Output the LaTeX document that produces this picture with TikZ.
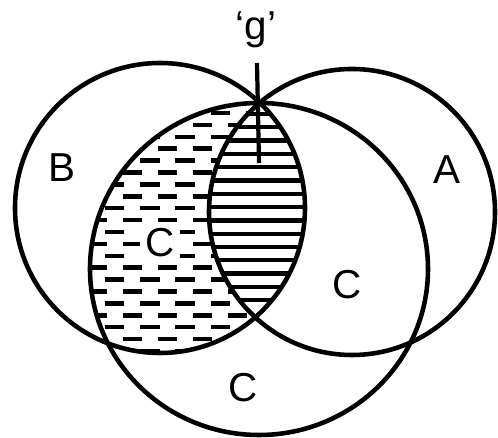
\documentclass[tikz,border=0pt]{standalone}
\usepackage{fontspec}
\setsansfont{Liberation Sans}
\begin{document}
\begin{tikzpicture}[x=0.02cm,y=-0.02cm,
  outline/.style={line width=2.6pt},
  lbl/.style={font=\sffamily\fontsize{23}{23}\selectfont, inner sep=0pt},
  dashrow/.style={line width=2.6pt, dash pattern=on 11pt off 9pt},
  lensrow/.style={line width=2.4pt}]
\useasboundingbox (0,0) rectangle (498,438);
% dashed region: B and C, outside A
\begin{scope}
  \clip (160,208) circle [radius=145];
  \clip (259,269) ellipse [x radius=169, y radius=166];
  \foreach \i in {0,...,20} {
    \pgfmathsetmacro{\ph}{mod(\i,2)*10}
    \draw[dashrow, dash phase=\ph pt] (70,{113+11.9*\i}) -- (330,{113+11.9*\i});
  }
\end{scope}
% lens A and B
\begin{scope}
  \clip (352,212) circle [radius=143];
  \fill[white] (160,208) circle [radius=145];
  \clip (160,208) circle [radius=145];
  \foreach \i in {0,...,14} {
    \draw[lensrow] (190,{114+13.3*\i}) -- (320,{114+13.3*\i});
  }
\end{scope}
% outlines
\draw[outline] (160,208) circle [radius=145];
\draw[outline] (352,212) circle [radius=143];
\draw[outline] (259,269) ellipse [x radius=169, y radius=166];
% tick line at the point g
\coordinate (gtop) at (257,63);
\coordinate (gbot) at (259,163);
\draw[line width=2.4pt] (gtop) -- (gbot);
% labels
\node[lbl] (g) at (256,30) {`g'};
\node[lbl] (B) at (62,168) {B};
\node[lbl] (A) at (447,170) {A};
\node[lbl, fill=white, inner sep=3pt] (C1) at (160,243) {C};
\node[lbl] (C2) at (347,285) {C};
\node[lbl] (C3) at (243,388) {C};
\end{tikzpicture}
\end{document}
